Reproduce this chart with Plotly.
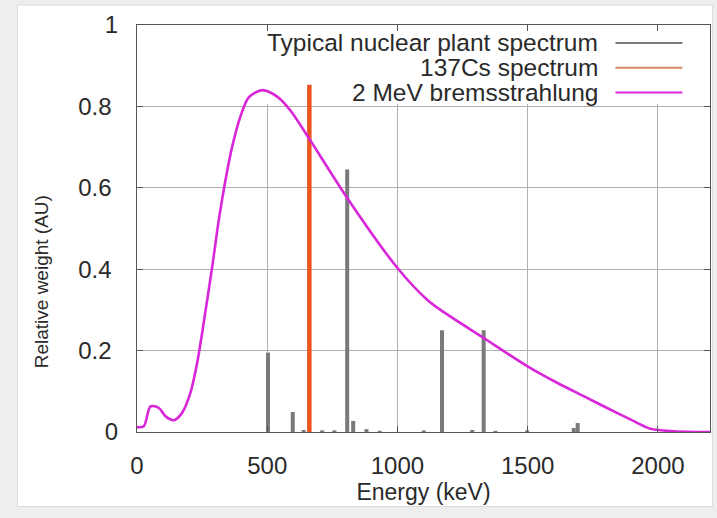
import plotly.graph_objects as go

# ---- data ----
brems_energy = [0, 26, 52, 84, 109, 141, 173, 205, 231, 256, 289, 314, 340, 365, 397, 429, 481,
                538, 589, 660, 807, 1000, 1114, 1165, 1331, 1498, 1613, 1715, 1805, 1894, 1971,
                2061, 2200]
brems_weight = [0.012, 0.014, 0.063, 0.059, 0.039, 0.029, 0.047, 0.096, 0.17, 0.268, 0.407, 0.521,
                0.62, 0.70, 0.775, 0.822, 0.84, 0.824, 0.79, 0.722, 0.575, 0.403, 0.325, 0.30,
                0.231, 0.162, 0.121, 0.088, 0.059, 0.031, 0.008, 0.002, 0.0]

plant_energy = [503, 598, 640, 711, 758, 807, 830, 881, 932, 1101, 1171, 1287, 1331, 1376, 1498, 1677, 1692]
plant_weight = [0.195, 0.049, 0.005, 0.004, 0.004, 0.645, 0.027, 0.007, 0.003, 0.004, 0.25, 0.005,
                0.25, 0.003, 0.004, 0.01, 0.022]

cs_energy = [661.7]
cs_weight = [0.853]

legend_labels = ["Typical nuclear plant spectrum", "137Cs spectrum", "2 MeV bremsstrahlung"]
x_ticks = [0, 500, 1000, 1500, 2000]
y_ticks = [0, 0.2, 0.4, 0.6, 0.8, 1]
y_ticktext = ["0", "0.2\u00a0", "0.4\u00a0", "0.6\u00a0", "0.8\u00a0", "1"]

GRAY = "#7a7a7a"
ORANGE = "#e8561e"
MAGENTA = "#d926d9"
FONT = "Liberation Sans, Arial, sans-serif"


def impulses(xs, ys):
    px, py = [], []
    for x, y in zip(xs, ys):
        px += [x, x, None]
        py += [0, y, None]
    return px, py


fig = go.Figure()
px, py = impulses(plant_energy, plant_weight)
fig.add_trace(go.Scatter(x=px, y=py, mode="lines", line=dict(color=GRAY, width=4),
                         name=legend_labels[0], showlegend=False))
px, py = impulses(cs_energy, cs_weight)
fig.add_trace(go.Scatter(x=px, y=py, mode="lines", line=dict(color=ORANGE, width=4.5),
                         name=legend_labels[1], showlegend=False))
fig.add_trace(go.Scatter(x=brems_energy, y=brems_weight, mode="lines",
                         line=dict(color=MAGENTA, width=2.6, shape="spline", smoothing=0.8),
                         name=legend_labels[2], showlegend=False))

shapes = [
    # outer white card on light gray background
    dict(type="rect", xref="paper", yref="paper", x0=-0.2085, x1=1.0042, y0=-0.183, y1=1.049,
         fillcolor="white", line=dict(color="#dcdcdc", width=1), layer="below"),
    # legend background hiding grid lines
    dict(type="rect", xref="x", yref="y", x0=480, x1=2200, y0=0.806, y1=1.0,
         fillcolor="white", line=dict(width=0), layer="between"),
]
annotations = []
legend_colors = [GRAY, "#d9875e", MAGENTA]
legend_y = [0.956, 0.895, 0.834]
for lab, col, yy in zip(legend_labels, legend_colors, legend_y):
    annotations.append(dict(x=1779, y=yy, xref="x", yref="y", text=lab, showarrow=False,
                            xanchor="right", yanchor="middle",
                            font=dict(family=FONT, size=24.5, color="#2a2a2a")))
    shapes.append(dict(type="line", xref="x", yref="y", x0=1837, x1=2094, y0=yy, y1=yy,
                       line=dict(color=col, width=2), layer="above"))

# y-axis title placed as rotated annotation (sits below the axis centre in the reference)
annotations.append(dict(x=-0.166, y=0.370, xref="paper", yref="paper", text="Relative weight (AU)",
                        textangle=-90, showarrow=False, xanchor="center", yanchor="middle",
                        font=dict(family=FONT, size=19, color="#2a2a2a")))

fig.update_layout(
    width=717, height=518,
    margin=dict(l=136.5, r=7.4, t=25, b=85.5),
    paper_bgcolor="#eeeeee", plot_bgcolor="white",
    font=dict(family=FONT, size=24, color="#2a2a2a"),
    shapes=shapes, annotations=annotations,
    showlegend=False,
)
fig.update_xaxes(range=[0, 2200], tickvals=x_ticks, showgrid=True, gridcolor="#b0b0b0", gridwidth=1,
                 zeroline=False, showline=True, linecolor="#555555", linewidth=1, mirror="ticks",
                 ticks="inside", ticklen=6, tickcolor="#555555", ticklabelstandoff=12, automargin=False,
                 title=dict(text="Energy (keV)", standoff=6, font=dict(size=23)))
fig.update_yaxes(range=[0, 1], tickvals=y_ticks, ticktext=y_ticktext, showgrid=True, gridcolor="#b0b0b0",
                 gridwidth=1, zeroline=False, showline=True, linecolor="#555555", linewidth=1, mirror="ticks",
                 ticks="inside", ticklen=6, tickcolor="#555555", ticklabelstandoff=13, automargin=False)

fig.write_html("out.html", config={"displayModeBar": False},
               post_script="document.body.style.margin='0';document.body.style.overflow='hidden';")
